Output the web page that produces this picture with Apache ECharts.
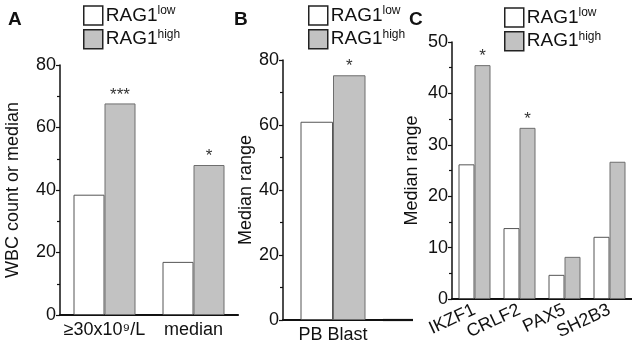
<!DOCTYPE html>
<html><head><meta charset="utf-8">
<script src="https://cdn.jsdelivr.net/npm/echarts@6/dist/echarts.min.js"></script>
<style>html,body{margin:0;padding:0;background:#fff}#c{width:632px;height:346px}</style>
</head><body><div id="c"></div>
<script>
const catsA = ['≥30x10⁹/L', 'median'];
const lowA = [38.5, 17];
const highA = [67.7, 48];
const starsA = ['***', '*'];
const catsB = ['PB Blast'];
const lowB = [61];
const highB = [75.3];
const starsB = ['*'];
const catsC = ['IKZF1', 'CRLF2', 'PAX5', 'SH2B3'];
const lowC = [26.2, 13.8, 4.7, 12.1];
const highC = [45.5, 33.3, 8.2, 26.7];
const starsC = ['*', '*', '', ''];
const ticksA = [0, 20, 40, 60, 80];
const ticksB = [0, 20, 40, 60, 80];
const ticksC = [0, 10, 20, 30, 40, 50];

const FONT = 'Liberation Sans, Arial, sans-serif';
const chart = echarts.init(document.getElementById('c'), null, {renderer: 'canvas'});

function yAx(gi, ticks, name, nameGap) {
  const step = ticks[1] - ticks[0];
  return {
    type: 'value', gridIndex: gi, min: ticks[0], max: ticks[ticks.length - 1], interval: step,
    name: name, nameLocation: 'middle', nameGap: nameGap,
    nameTextStyle: {fontFamily: FONT, fontSize: 18, color: '#111'},
    axisLine: {show: true, lineStyle: {color: '#111', width: 1.5}},
    axisTick: {show: true, inside: false, length: 4, lineStyle: {color: '#111', width: 1.2}},
    minorTick: {show: true, splitNumber: 2, length: 3, lineStyle: {color: '#111', width: 1.2}},
    splitLine: {show: false},
    axisLabel: {fontFamily: FONT, fontSize: 18, color: '#111', margin: 4}
  };
}
function xAx(gi, cats, rotate) {
  return {
    type: 'category', gridIndex: gi, data: cats,
    axisLine: {show: true, onZero: false, lineStyle: {color: '#111', width: 2.2}},
    axisTick: {show: false},
    axisLabel: {fontFamily: FONT, fontSize: 18, color: '#111', margin: rotate ? 10 : 6, rotate: rotate || 0, interval: 0}
  };
}
function lowS(xi, data, bw) {
  return {name: 'low', type: 'bar', xAxisIndex: xi, yAxisIndex: xi, data: data, barWidth: bw, barGap: '0%',
    itemStyle: {color: '#ffffff', borderColor: '#555', borderWidth: 1}, animation: false};
}
function highS(xi, data, bw, stars) {
  return {name: 'high', type: 'bar', xAxisIndex: xi, yAxisIndex: xi, data: data, barWidth: bw, barGap: '0%',
    itemStyle: {color: '#c2c2c2', borderColor: '#6e6e6e', borderWidth: 1},
    label: {show: true, position: 'top', distance: 0, fontFamily: FONT, fontSize: 17, color: '#333',
      formatter: p => stars[p.dataIndex]}, animation: false};
}
function leg(left, top) {
  return {
    left: left, top: top, orient: 'vertical', itemWidth: 19, itemHeight: 19, itemGap: 3,
    icon: 'rect', data: ['low', 'high'], selectedMode: false,
    itemStyle: {borderColor: '#222', borderWidth: 1.5},
    formatter: n => '{a|RAG1}{s|' + n + '}',
    textStyle: {padding: [0, 0, 0, -2], rich: {
      a: {fontFamily: FONT, fontSize: 19, color: '#111'},
      s: {fontFamily: FONT, fontSize: 12, color: '#111', padding: [0, 0, 9, 0]}
    }}
  };
}

chart.setOption({
  animation: false,
  title: [
    {text: 'A', left: 3, top: 5, textStyle: {fontFamily: FONT, fontSize: 19, fontWeight: 'bold', color: '#111'}},
    {text: 'B', left: 229, top: 5, textStyle: {fontFamily: FONT, fontSize: 19, fontWeight: 'bold', color: '#111'}},
    {text: 'C', left: 404, top: 5, textStyle: {fontFamily: FONT, fontSize: 19, fontWeight: 'bold', color: '#111'}}
  ],
  legend: [leg(78, 0), leg(303, 0), leg(499, 2)],
  grid: [
    {left: 60, top: 65, width: 178, height: 250},
    {left: 283, top: 60, width: 100, height: 260},
    {left: 452, top: 42, width: 180, height: 257}
  ],
  xAxis: [xAx(0, catsA), xAx(1, catsB), xAx(2, catsC, 25)],
  yAxis: [yAx(0, ticksA, 'WBC count or median', 38), yAx(1, ticksB, 'Median range', 26), yAx(2, ticksC, 'Median range', 31)],
  series: [
    lowS(0, lowA, 31), highS(0, highA, 31, starsA),
    lowS(1, lowB, 32.5), highS(1, highB, 32.5, starsB),
    lowS(2, lowC, 16), highS(2, highC, 16, starsC)
  ],
  graphic: [
    {type: 'line', shape: {x1: 383, y1: 320, x2: 413, y2: 320}, style: {stroke: '#111', lineWidth: 2.2}}
  ]
});
</script></body></html>
